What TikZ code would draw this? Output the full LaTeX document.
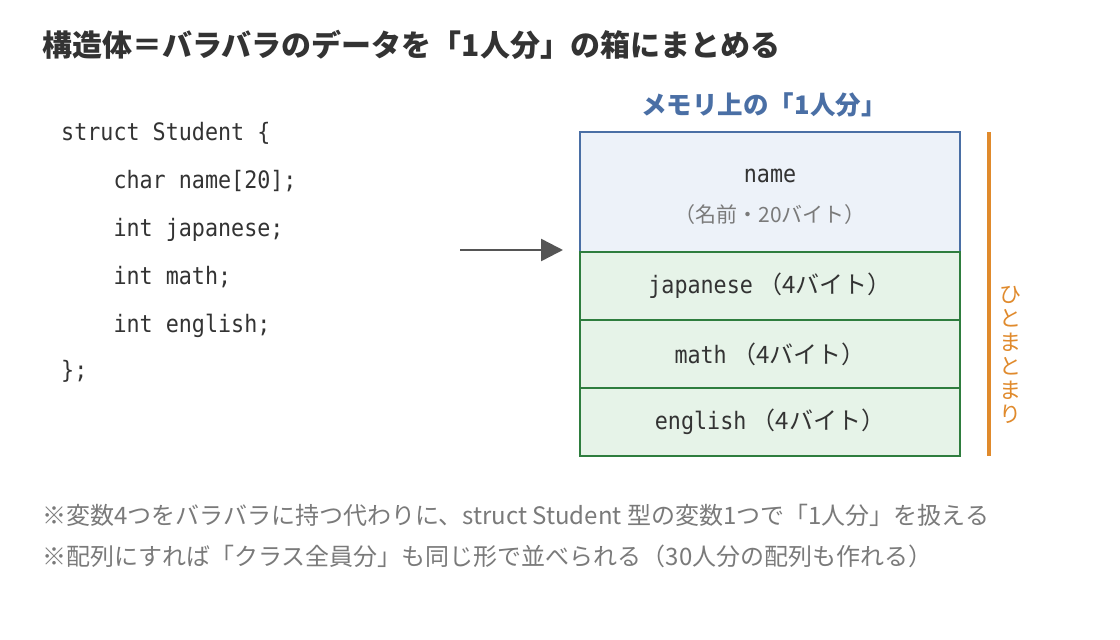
\documentclass[tikz,border=0pt]{standalone}
\usepackage{fontspec}
\setmainfont{Noto Sans CJK JP}
\newfontfamily\codefont[FakeStretch=0.905]{DejaVu Sans Mono}
\usetikzlibrary{arrows.meta}
\definecolor{ink}{HTML}{333333}
\definecolor{note}{HTML}{7A7A7A}
\definecolor{headblue}{HTML}{4A6FA5}
\definecolor{nameborder}{HTML}{4A6FA5}
\definecolor{namefill}{HTML}{EDF2F9}
\definecolor{rowborder}{HTML}{2E7D3E}
\definecolor{rowfill}{HTML}{E6F3E8}
\definecolor{bundle}{HTML}{E08A2C}
\definecolor{arrowgray}{HTML}{555555}
\tikzset{
  codeline/.style={anchor=base west, inner sep=0pt, text=ink, font=\codefont\fontsize{24}{28}\selectfont},
  namebox/.style={draw=nameborder, fill=namefill, line width=2pt, minimum width=380pt, minimum height=120pt, inner sep=0pt},
  rowbox/.style={draw=rowborder, fill=rowfill, line width=2pt, minimum width=380pt, minimum height=68pt, inner sep=0pt, text=ink, font=\fontsize{24}{28}\selectfont},
  notetext/.style={anchor=base west, inner sep=0pt, text=note, font=\fontsize{24}{28}\selectfont},
  pointer/.style={draw=arrowgray, line width=2.5pt, -{Triangle[length=22pt,width=22pt]}},
}
\newcommand{\cf}{\codefont\fontsize{24}{28}\selectfont}
\begin{document}
\begin{tikzpicture}[x=1pt,y=-1pt]
\useasboundingbox[fill=white] (0,0) rectangle (1120,640);
% title
\node[anchor=west, inner sep=0pt, text=ink, font=\bfseries\fontsize{30}{35}\selectfont] (title) at (42,45) {構造体＝バラバラのデータを「1人分」の箱にまとめる};
% code
\node[codeline] (c1) at (61,140) {struct Student \{};
\node[codeline] (c2) at (61,188) {\ \ \ \ char name[20];};
\node[codeline] (c3) at (61,236) {\ \ \ \ int japanese;};
\node[codeline] (c4) at (61,284) {\ \ \ \ int math;};
\node[codeline] (c5) at (61,332) {\ \ \ \ int english;};
\node[codeline] (c6) at (61,378) {\};};
% memory heading
\node[inner sep=0pt, text=headblue, font=\bfseries\fontsize{25.5}{30}\selectfont] (mhead) at (764,105) {メモリ上の「1人分」};
% memory boxes
\node[namebox] (nm) at (770,192) {};
\node[inner sep=0pt, text=ink, font=\cf] (nmlabel) at (770,176) {name};
\node[inner sep=0pt, text=note, font=\fontsize{21}{25}\selectfont] (nmsub) at (770,215) {（名前・20バイト）};
\node[rowbox] (jp) at (770,286) {{\cf japanese} （4バイト）};
\node[rowbox] (ma) at (770,354) {{\cf math} （4バイト）};
\node[rowbox] (en) at (770,422) {{\cf english} （4バイト）};
% arrow
\coordinate (a1) at (460,250);
\coordinate (a2) at (563,250);
\draw[pointer] (a1) -- (a2);
% bundle bar
\coordinate (b1) at (989,132);
\coordinate (b2) at (989,456);
\draw[bundle, line width=3.5pt] (b1) -- (b2);
\node[inner sep=0pt, text=bundle, align=center, font=\fontsize{22}{24}\selectfont] (blabel) at (1010,355) {ひ\\と\\ま\\と\\ま\\り};
% notes
\node[notetext] (n1) at (42,524) {※変数4つをバラバラに持つ代わりに、struct Student 型の変数1つで「1人分」を扱える};
\node[notetext] (n2) at (42,565) {※配列にすれば「クラス全員分」も同じ形で並べられる（30人分の配列も作れる）};
\end{tikzpicture}
\end{document}
